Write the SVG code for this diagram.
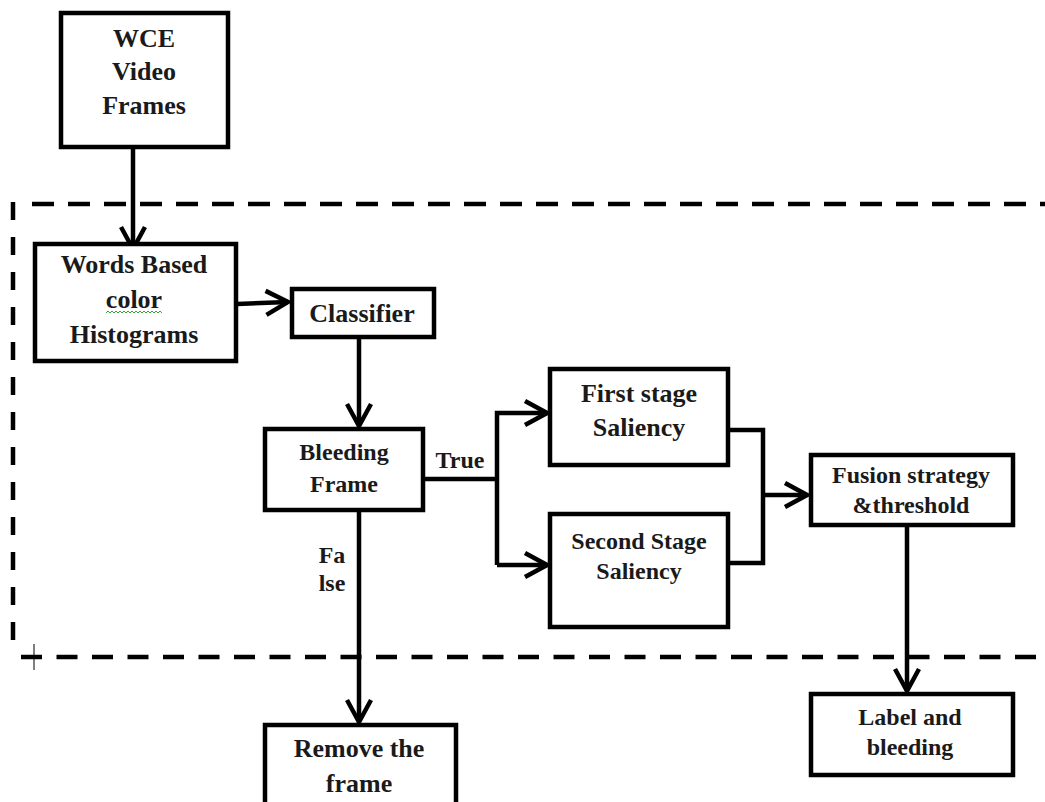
<svg xmlns="http://www.w3.org/2000/svg" width="1045" height="802" viewBox="0 0 1045 802">
<style>
.box{fill:#fff;stroke:#000;stroke-width:4.5}
text{font-family:'Liberation Serif','DejaVu Serif','Times New Roman',serif;font-weight:700;font-size:24px;fill:#1a1a1a;text-anchor:middle}
.big{font-size:26px}
.c{fill:none;stroke:#000;stroke-width:4.5}
.dash{fill:none;stroke:#000;stroke-width:4.5}
</style>
<defs>
<marker id="arr" markerUnits="userSpaceOnUse" viewBox="-28 -16 32 32" markerWidth="32" markerHeight="32" refX="0" refY="0" orient="auto">
<path d="M-22,-12 L0,0 L-22,12" fill="none" stroke="#000" stroke-width="4.5" stroke-linejoin="miter"/>
</marker>
</defs>
<rect width="1045" height="802" fill="#fff"/>
<g id="boundary">
<line class="dash" x1="13" y1="202" x2="13" y2="647" stroke-dasharray="18 17"/>
<line class="dash" x1="32" y1="204" x2="1045" y2="204" stroke-dasharray="22 14"/>
<line class="dash" x1="21" y1="657" x2="1045" y2="657" stroke-dasharray="21 14.5"/>
<line x1="21" y1="657" x2="42" y2="657" stroke="#000" stroke-width="1"/>
<line x1="34" y1="644" x2="34" y2="670" stroke="#000" stroke-width="1"/>
</g>
<g id="connectors">
<path class="c" d="M133,147 V249" marker-end="url(#arr)"/>
<path class="c" d="M237,304 L288,302" marker-end="url(#arr)"/>
<path class="c" d="M359,339 V426" marker-end="url(#arr)"/>
<path class="c" d="M425,479 H497"/>
<path class="c" d="M497,565 V413 H547" marker-end="url(#arr)"/>
<path class="c" d="M497,565 H547" marker-end="url(#arr)"/>
<path class="c" d="M730,430 H763 V563 H730"/>
<path class="c" d="M763,495 H807" marker-end="url(#arr)"/>
<path class="c" d="M907,527 V691" marker-end="url(#arr)"/>
<path class="c" d="M359,512 V722" marker-end="url(#arr)"/>
<text x="460" y="468">True</text>
<text x="332" y="563">Fa</text>
<text x="332" y="591">lse</text>
</g>
<g id="wce">
<rect class="box" x="61" y="13" width="167" height="134"/>
<text class="big" x="144" y="47">WCE</text>
<text class="big" x="144" y="80">Video</text>
<text class="big" x="144" y="114">Frames</text>
</g>
<g id="histograms">
<rect class="box" x="35" y="244" width="201" height="117"/>
<text class="big" x="134" y="273">Words Based</text>
<text class="big" x="134" y="308">color</text>
<path d="M106,313 l2,-2 l2,2 l2,-2 l2,2 l2,-2 l2,2 l2,-2 l2,2 l2,-2 l2,2 l2,-2 l2,2 l2,-2 l2,2 l2,-2 l2,2 l2,-2 l2,2 l2,-2 l2,2 l2,-2 l2,2 l2,-2 l2,2 l2,-2 l2,2 l2,-2 l2,2" fill="none" stroke="#3aa33a" stroke-width="1"/>
<text class="big" x="134" y="343">Histograms</text>
</g>
<g id="classifier">
<rect class="box" x="292" y="289" width="142" height="48"/>
<text class="big" x="362" y="322">Classifier</text>
</g>
<g id="bleeding">
<rect class="box" x="265" y="429" width="158" height="81"/>
<text x="344" y="460">Bleeding</text>
<text x="344" y="492">Frame</text>
</g>
<g id="first">
<rect class="box" x="550" y="369" width="178" height="96"/>
<text class="big" x="639" y="402">First stage</text>
<text class="big" x="639" y="436">Saliency</text>
</g>
<g id="second">
<rect class="box" x="550" y="514" width="178" height="113"/>
<text x="639" y="549">Second Stage</text>
<text x="639" y="579">Saliency</text>
</g>
<g id="fusion">
<rect class="box" x="811" y="455" width="202" height="70"/>
<text x="911" y="483">Fusion strategy</text>
<text x="911" y="513">&amp;threshold</text>
</g>
<g id="label">
<rect class="box" x="811" y="694" width="202" height="81"/>
<text x="910" y="725">Label and</text>
<text x="910" y="755">bleeding</text>
</g>
<g id="remove">
<rect class="box" x="265" y="725" width="191" height="100"/>
<text class="big" x="359" y="757">Remove the</text>
<text class="big" x="359" y="792">frame</text>
</g>
</svg>
